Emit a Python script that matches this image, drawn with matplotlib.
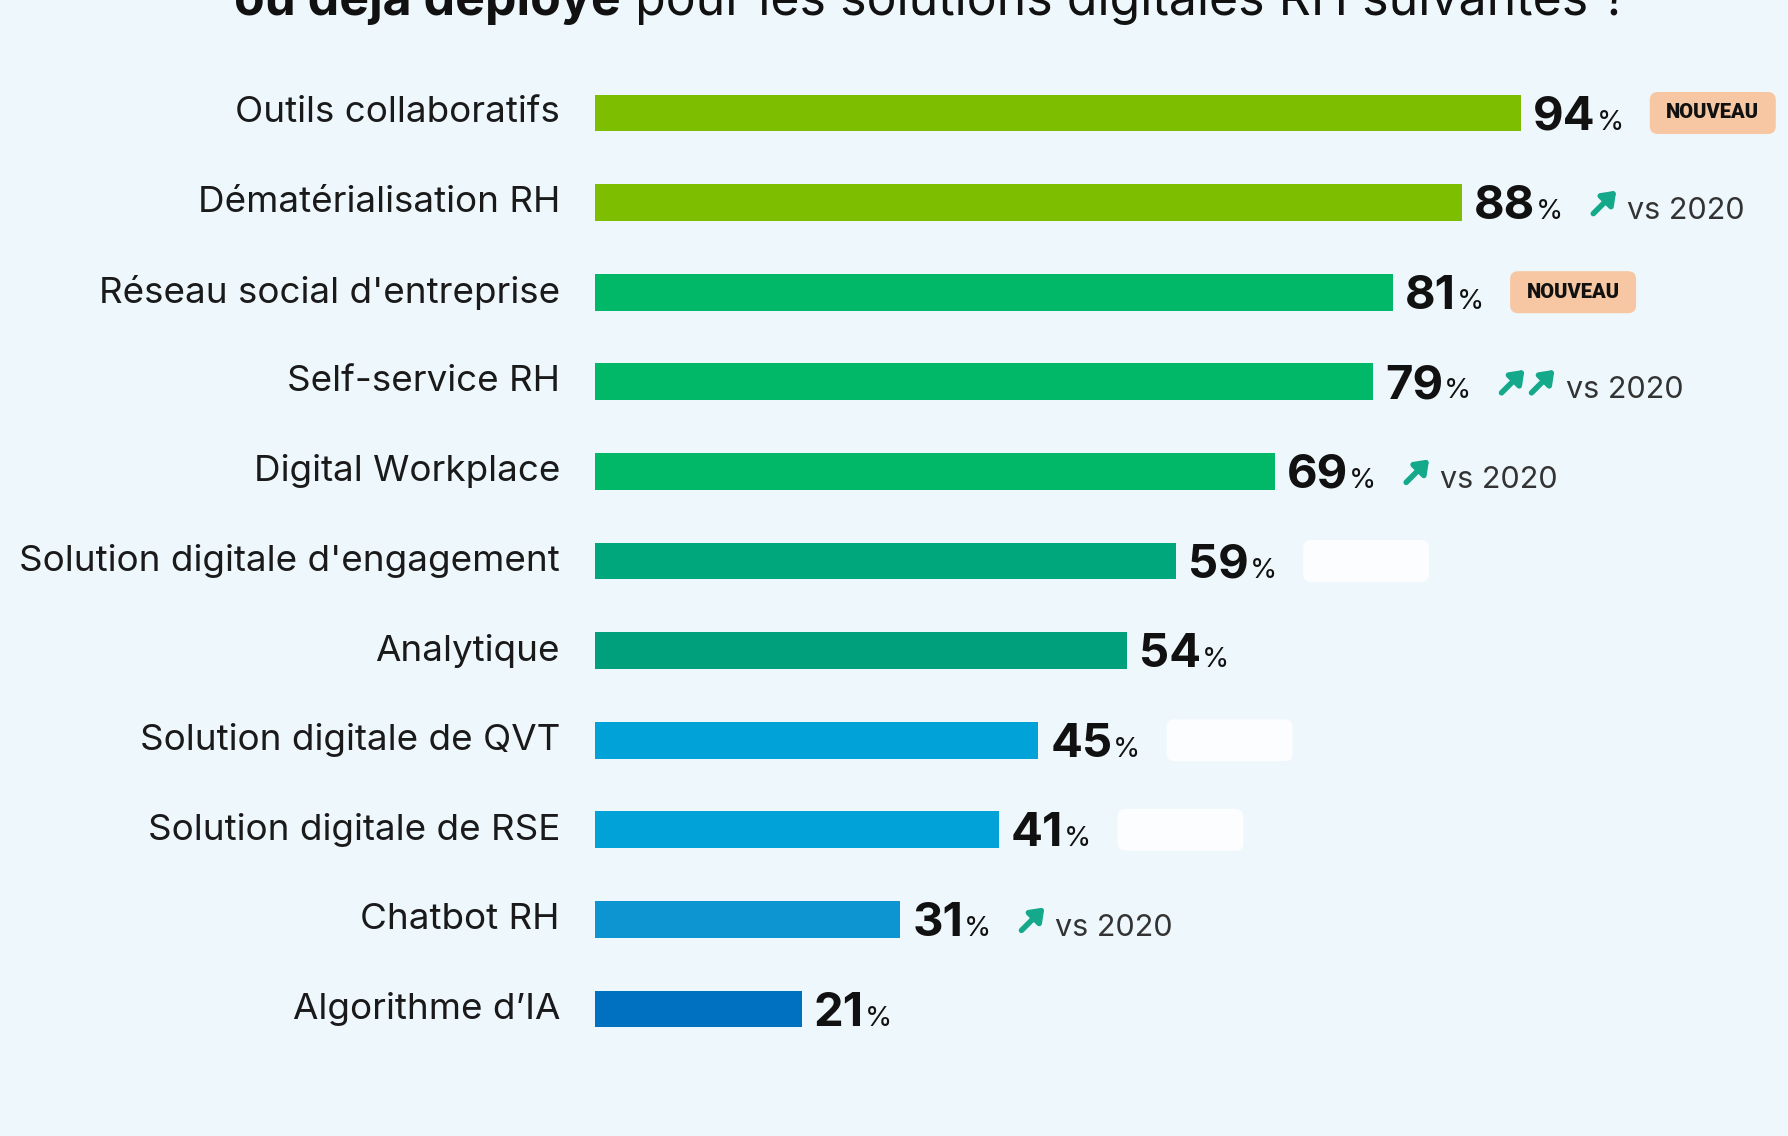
import matplotlib.pyplot as plt
from matplotlib.patches import FancyBboxPatch
from matplotlib.transforms import IdentityTransform

plt.rcParams['font.family'] = ['Inter', 'DejaVu Sans']

categories = [
    "Outils collaboratifs",
    "Dématérialisation RH",
    "Réseau social d'entreprise",
    "Self-service RH",
    "Digital Workplace",
    "Solution digitale d'engagement",
    "Analytique",
    "Solution digitale de QVT",
    "Solution digitale de RSE",
    "Chatbot RH",
    "Algorithme d’IA",
]
values = [94, 88, 81, 79, 69, 59, 54, 45, 41, 31, 21]
colors = ['#7dbf00', '#7dbf00', '#00b868', '#00b868', '#00b868',
          '#00a67c', '#00a07c', '#00a2d7', '#00a2d7', '#0c95d1', '#0071c1']
# what follows each value: badge, trend arrow(s) or empty placeholder
tags = ['nouveau', 'up', 'nouveau', 'up2', 'up', 'blank', None,
        'blank', 'blank', 'up', None]
title_bold = "ou déjà déployé"
title_rest = " pour les solutions digitales RH suivantes ?"

bg = '#eef7fc'
W, H = 1788, 1136
fig = plt.figure(figsize=(W / 100, H / 100), dpi=100)
fig.patch.set_facecolor(bg)

x0 = 595          # pixel where bars start
row0, step = 113, 89.6
scale = 9.85      # pixels per percent
ax = fig.add_axes([x0 / W, 0, 1 - x0 / W, 1])
ax.set_xlim(0, (W - x0) / scale)
ax.set_ylim((H - row0) / step, -row0 / step)
ax.axis('off')

ys = list(range(len(values)))
ax.barh(ys, values, height=0.41, color=colors)

for i, cat in enumerate(categories):
    ax.text(-35 / scale, i, cat, ha='right', va='center', fontsize=26.5,
            color='#1a1a1a')

renderer = fig.canvas.get_renderer()
inv = ax.transData.inverted()


def right_edge(t):
    bb = t.get_window_extent(renderer)
    return inv.transform((bb.x1, bb.y0))[0]


px = 1 / scale
base_off = 16.5 / step
for i, v in enumerate(values):
    num = ax.text(v + 12 * px, i + base_off, str(v), fontsize=34,
                  fontweight='bold', color='#111111', va='baseline')
    pct = ax.text(right_edge(num) + 1 * px, i + base_off, '%', fontsize=20,
                  color='#111111', va='baseline')
    xe = right_edge(pct) + 26 * px
    tag = tags[i]
    cx, cy = ax.transData.transform((xe, i))
    if tag in ('nouveau', 'blank'):
        w, h = 126, 42
        box = FancyBboxPatch((cx, cy - h / 2), w, h,
                             boxstyle='round,pad=0,rounding_size=8',
                             transform=IdentityTransform(),
                             fc='#f6c7a2' if tag == 'nouveau' else '#fbfdfe',
                             ec='none', zorder=2)
        ax.add_artist(box)
        if tag == 'nouveau':
            ax.text(xe + w / 2 * px, i, 'NOUVEAU', ha='center', va='center',
                    fontsize=14.5, fontweight='heavy', color='#111111',
                    family=['Roboto', 'DejaVu Sans'], zorder=3)
    elif tag in ('up', 'up2'):
        n = 1 if tag == 'up' else 2
        for k in range(n):
            ax0 = cx + k * 30
            ax.annotate('', xy=(ax0 + 27, cy + 12), xytext=(ax0 + 4, cy - 11),
                        xycoords='figure pixels', textcoords='figure pixels',
                        arrowprops=dict(arrowstyle='-|>,head_length=0.75,head_width=0.55',
                                        lw=4, color='#14a98a',
                                        shrinkA=0, shrinkB=0))
        ax.text(xe + (n * 30 + 8) * px, i + base_off, 'vs 2020',
                fontsize=22, color='#333333', va='baseline')

tb = fig.text(234 / W, 1 - 15 / H, title_bold, fontsize=36, fontweight='bold',
              color='#111111', va='baseline')
bb = tb.get_window_extent(renderer)
fig.text(bb.x1 / W, 1 - 15 / H, title_rest, fontsize=36, color='#111111',
         va='baseline')

fig.savefig('out.png', dpi=100, facecolor=bg)
